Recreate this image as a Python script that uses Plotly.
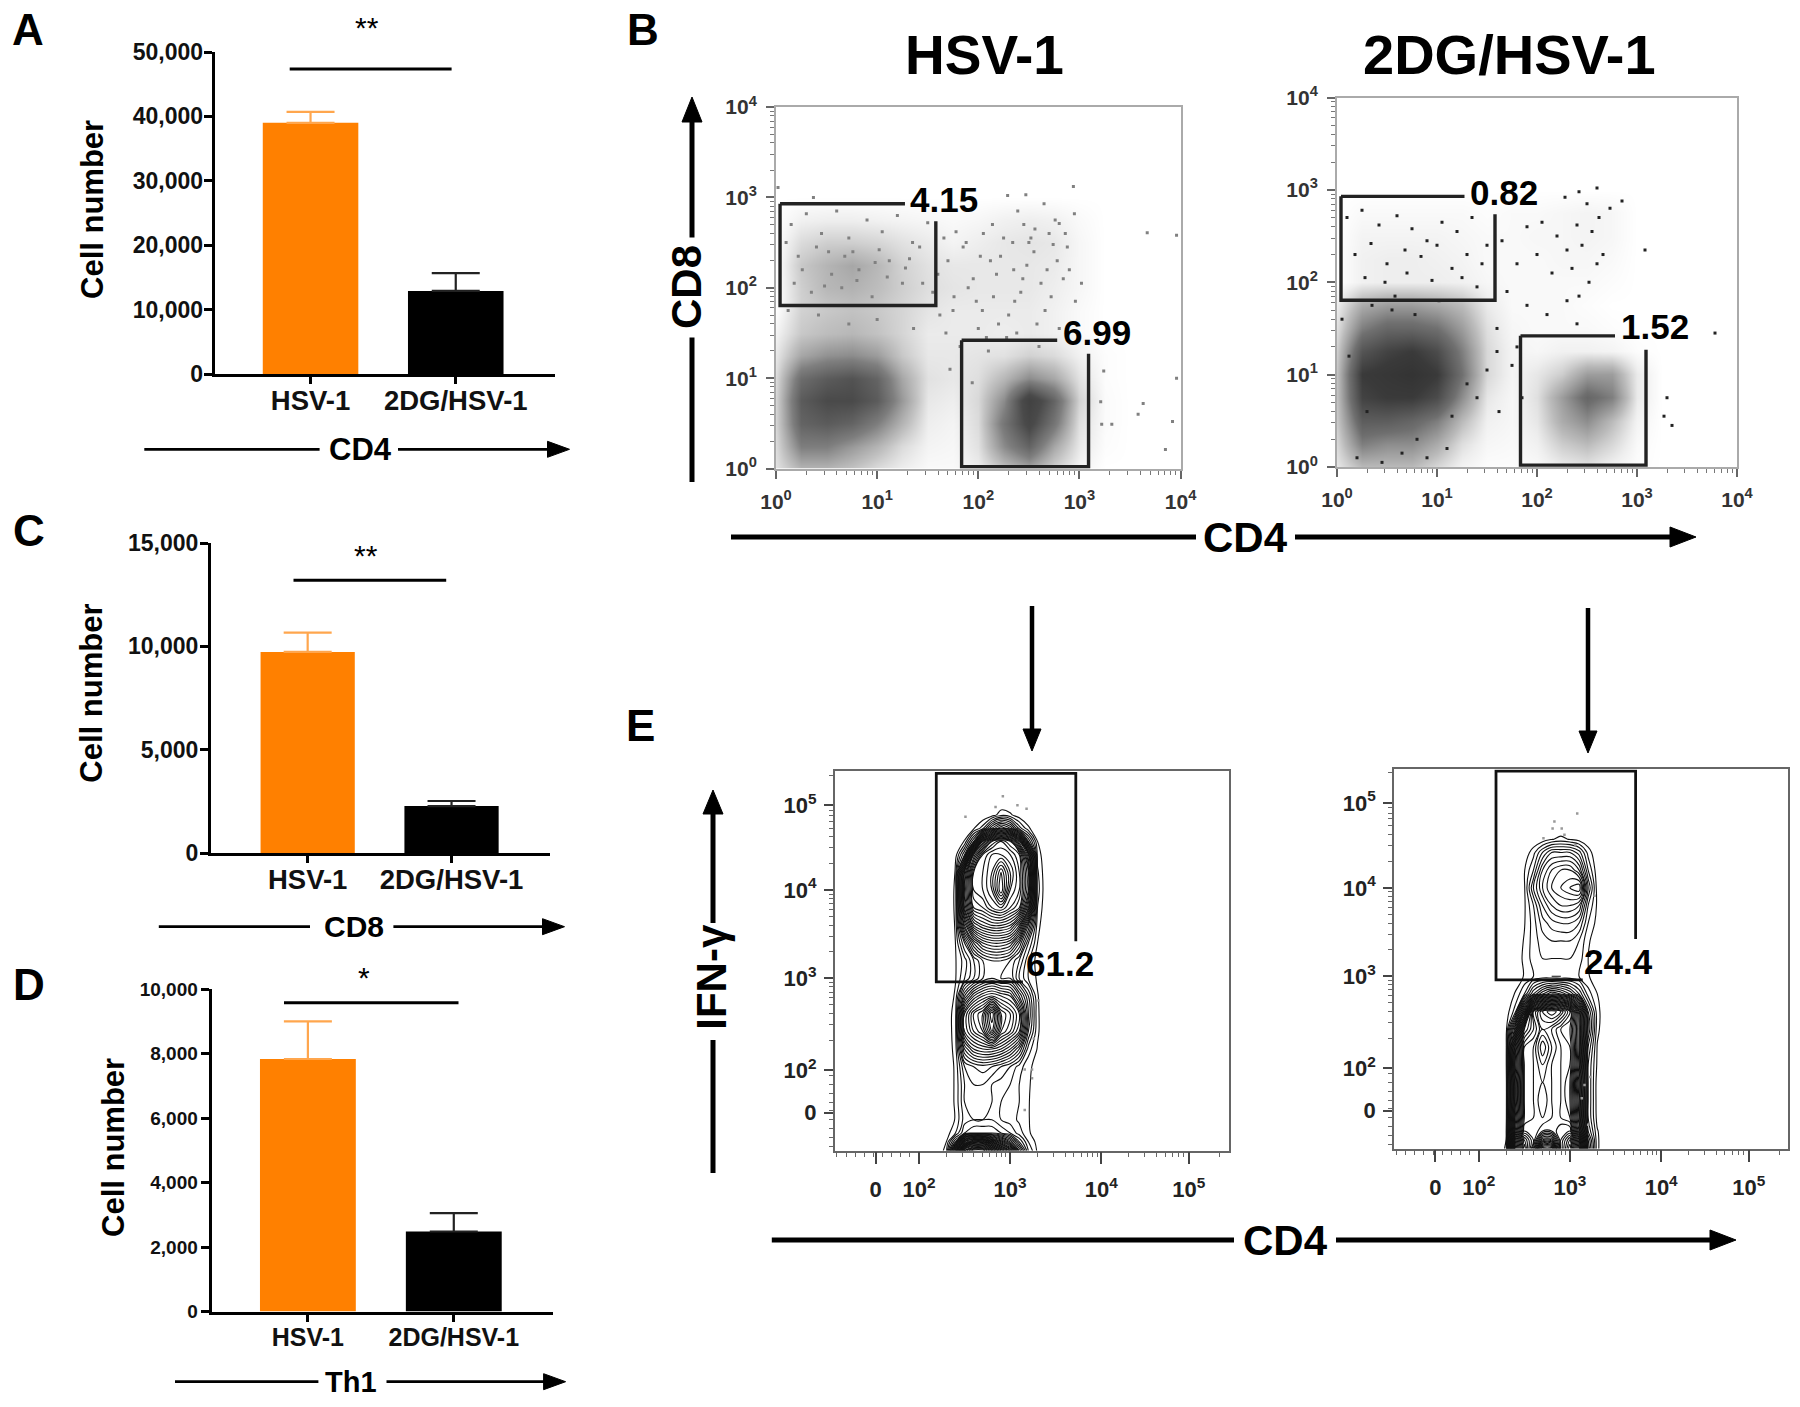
import math
import plotly.graph_objects as go

W, H = 1800, 1407
FONT = "Liberation Sans"

# ---------- bar panels ----------
groups = ["HSV-1", "2DG/HSV-1"]
cd4_means = [39000, 12900]
cd4_err = [1700, 2750]
cd4_ticks = [0, 10000, 20000, 30000, 40000, 50000]
cd4_ticktext = ["0", "10,000", "20,000", "30,000", "40,000", "50,000"]
cd8_means = [9730, 2270]
cd8_err = [930, 245]
cd8_ticks = [0, 5000, 10000, 15000]
cd8_ticktext = ["0", "5,000", "10,000", "15,000"]
th1_means = [7830, 2480]
th1_err = [1165, 570]
th1_ticks = [0, 2000, 4000, 6000, 8000, 10000]
th1_ticktext = ["0", "2,000", "4,000", "6,000", "8,000", "10,000"]

# ---------- CD4 / CD8 dot plots: density read by eye on a 0.25-decade grid ----------
dens_x = [0, .25, .5, .75, 1, 1.25, 1.5, 1.75, 2, 2.25, 2.5, 2.75, 3, 3.25, 3.5, 3.75, 4]
dens_y = [0, .25, .5, .75, 1, 1.25, 1.5, 1.75, 2, 2.25, 2.5, 2.75, 3, 3.25]
hsv_density = [
    [1, 2.5, 2.5, 2, 1.2, .6, .2, .2, .6, 2, 3, 1.5, .4, 0, 0, 0, 0],
    [1.2, 4.5, 4.5, 3.5, 2.5, 1.2, .4, .3, 1, 4, 6, 3, .8, .1, 0, 0, 0],
    [1.4, 6, 6.5, 6, 4.5, 2.5, .6, .4, 1.2, 5, 8, 5, 1.1, .15, 0, 0, 0],
    [1.4, 6.5, 7.5, 7.5, 6.5, 3.5, .8, .6, 1.3, 4, 9, 6, 1.5, .15, 0, 0, 0],
    [1.2, 5.5, 6.5, 7, 6, 3, 1, .8, 1.1, 2.4, 4, 3, 1, .1, 0, 0, 0],
    [.8, 3, 3.8, 4, 3.4, 1.8, .8, .8, .9, 1, 1.5, 1.2, .5, .1, 0, 0, 0],
    [.4, 1.8, 2.2, 2.4, 2, 1.4, .7, .7, .7, .6, .7, .5, .2, 0, 0, 0, 0],
    [0, 1.5, 1.8, 2, 1.8, 1.4, .9, .7, .7, .7, .7, .5, .2, 0, 0, 0, 0],
    [0, 1.6, 2.4, 2.6, 2.2, 1.6, 1.1, .9, .8, .8, .8, .6, .3, 0, 0, 0, 0],
    [0, 1.8, 2.5, 3, 2.4, 1.5, 1, .8, .8, .8, .8, .7, .3, 0, 0, 0, 0],
    [0, 1.2, 1.6, 1.6, 1.4, 1, .7, .4, .6, .8, .9, .8, .3, 0, 0, 0, 0],
    [0, .5, .6, .6, .5, .4, .3, .2, .3, .5, .6, .5, .2, 0, 0, 0, 0],
    [0] * 17,
    [0] * 17,
]
dg_density = [
    [.8, 2, 2, 2, 1.2, .4, .1, .1, .2, .6, .8, .4, .1, 0, 0, 0, 0],
    [1.2, 4, 3.5, 3.5, 2.5, 1, .3, .2, .5, 1.5, 2, 1.2, .2, 0, 0, 0, 0],
    [1.6, 5.5, 5.5, 5, 4, 2, .5, .3, .8, 2.5, 3.5, 2, .4, 0, 0, 0, 0],
    [1.8, 7, 7.5, 7.5, 6.5, 3.5, .8, .3, 1, 3, 5, 4, .7, 0, 0, 0, 0],
    [1.8, 7.5, 8, 8.5, 7.5, 4.5, 1.2, .4, .8, 1.5, 3, 3, .7, 0, 0, 0, 0],
    [1.5, 6, 7, 7.5, 6.5, 4, 1.2, .4, .3, .5, .5, .4, .1, 0, 0, 0, 0],
    [1, 4, 5, 5, 4.5, 3, 1, .3, .2, .2, .2, .1, 0, 0, 0, 0, 0],
    [.6, 2.5, 3, 3, 2.6, 2, .7, .2, .2, .2, .1, 0, 0, 0, 0, 0, 0],
    [0, .5, .6, .6, .6, .5, .3, .2, .2, .2, .2, .1, 0, 0, 0, 0, 0],
    [0, .5, .6, .6, .5, .4, .2, .2, .2, .3, .3, .2, 0, 0, 0, 0, 0],
    [0, .4, .4, .4, .4, .3, .2, .2, .3, .3, .4, .3, 0, 0, 0, 0, 0],
    [0, .2, .2, .2, .2, .2, .1, .2, .2, .3, .4, .3, 0, 0, 0, 0, 0],
    [0] * 17,
    [0] * 17,
]
# single events, log10 units
hsv_dots_x = [2.94, 2.95, 3.67, 3.96, 2.80, 2.29, 2.47, 2.65, 2.39, 3.24, 3.21, 3.63, 3.58, 3.92, 3.22, 3.32, 3.85, 3.96, .37, 0.02,
              1.7, 1.85, 1.95, 2.05, 2.15, 2.25, 2.35, 2.45, 2.55, 2.62, 2.7, 2.78, 2.88, 1.75, 1.9, 2.0, 2.12, 2.3, 2.42, 2.58,
              2.72, 2.84, 1.68, 1.82, 2.04, 2.18, 2.38, 2.5, 2.66, 2.8, 3.02, 1.72, 1.94, 2.1, 2.28, 2.48, 2.6, 2.76, 2.96, 1.6,
              .15, .3, .45, .6, .72, .9, 1.05, 1.2, 1.35, 1.5, .22, .52, .82, 1.12, 1.42, .35, .65, .95, 1.25, 1.55,
              .1, .26, .4, .55, .68, .8, .98, 1.1, 1.28, 1.45, .18, .48, .76, 1.02, 1.32, .12, .42, .72, 1.0, 1.36,
              1.66, 1.78, 1.88, 2.02, 2.14, 2.22, 2.34, 2.44, 2.52, 2.68, 2.74, 2.86, 1.62, 1.76, 1.98, 2.08, 2.2, 2.36, 2.56, 2.9]
hsv_dots_y = [3.12, 2.82, 2.61, 2.58, 2.71, 3.02, 3.03, 2.93, 2.85, 1.08, .74, .72, .6, .52, .49, .49, .21, 1.0, 3.0, 3.11,
              2.3, 2.45, 2.1, 2.6, 1.9, 2.55, 2.2, 2.7, 2.4, 2.05, 2.6, 2.3, 2.45, 1.75, 2.0, 1.55, 2.3, 1.7, 1.95, 1.6,
              1.9, 2.1, 1.5, 1.35, 1.75, 2.15, 1.5, 2.5, 1.75, 1.55, 2.05, 1.1, .95, 1.3, 1.45, 2.25, 1.35, 2.75, 1.85, 2.15,
              2.7, 2.82, 2.6, 2.85, 2.55, 2.75, 2.62, 2.8, 2.5, 2.72, 2.35, 2.4, 2.2, 2.3, 2.45, 1.95, 2.0, 1.9, 2.05, 1.95,
              2.5, 2.2, 2.45, 2.15, 2.35, 2.08, 2.28, 2.12, 2.22, 2.05, 2.05, 2.02, 2.4, 2.42, 2.32, 1.75, 1.7, 1.6, 1.65, 1.55,
              2.55, 2.62, 2.5, 2.35, 2.7, 2.35, 2.5, 2.1, 2.55, 2.2, 2.48, 2.6, 1.7, 1.9, 1.85, 1.45, 1.6, 1.85, 2.65, 2.2]
dg_dots_x = [2.6, 2.42, 2.5, 2.28, 2.62, 2.85, 2.73, 2.4, 2.55, 1.9, 2.05, 2.2, 2.3, 2.45, 2.6, 1.65, 1.8, 2.0, 2.15, 2.35,
             2.52, 2.66, 2.42, 3.08, 3.78, 3.3, 3.27, 3.35, 1.7, 1.9, 2.1, 2.3, 1.6, 1.8, 2.4,
             .1, .25, .42, .6, .75, .9, 1.05, 1.2, 1.35, 1.5, .18, .34, .5, .68, .84, 1.0, 1.15, 1.3, 1.45, .28, .48, .7, .95, 1.25, 1.4,
             .05, .12, .3, .55, .8, 1.1, 1.4, .2, .45, .65, .9, 1.15, 1.3, 1.5, 1.6, 1.75, 1.62, 1.85, .35, .58, .78, 1.02]
dg_dots_y = [3.02, 2.98, 2.85, 2.92, 2.7, 2.88, 2.8, 2.62, 2.55, 2.6, 2.65, 2.5, 2.35, 2.4, 2.2, 2.45, 2.2, 2.3, 2.1, 2.15,
             2.0, 2.3, 1.85, 2.35, 1.45, .75, .55, .45, 1.9, 1.75, 1.65, 1.8, 1.5, 1.3, 1.55,
             2.7, 2.78, 2.62, 2.72, 2.58, 2.45, 2.65, 2.55, 2.7, 2.4, 2.3, 2.42, 2.2, 2.35, 2.28, 2.4, 2.15, 2.3, 2.2, 2.05, 2.0, 2.1, 2.02, 2.05, 1.95,
             1.6, 1.2, .6, 1.7, .3, .2, .75, .1, .05, .15, .1, .55, .9, 1.05, 1.25, 1.1, .6, .75, 1.75, 1.85, 1.65, 1.8]

# gates, log10 units
gate_cd8_x = [.04, .04, 1.58, 1.58, None, .04, 1.275]
gate_cd8_y = [2.93, 1.805, 1.805, 2.735, None, 2.93, 2.93]
gate_cd4_x = [1.835, 1.835, 3.09, 3.09, None, 1.835, 2.78]
gate_cd4_y = [1.42, .02, .02, 1.27, None, 1.42, 1.42]

# ---------- IFN-gamma contour plots: density read by eye, axes in display decades ----------
cont_x = [2.2, 2.3, 2.4, 2.5, 2.6, 2.7, 2.8, 2.9, 3.0, 3.1, 3.2, 3.3, 3.4]
cont_y_hsv = [1.05, 1.15, 1.25, 1.4, 1.6, 1.8, 2.0, 2.2, 2.4, 2.6, 2.8, 3.0, 3.2, 3.4, 3.6, 3.8, 4.0, 4.2, 4.4, 4.55, 4.7, 4.85, 5.0]
ifn_hsv = [
    [0, 1.5, 14, 30, 34, 34, 30, 24, 18, 9, 3, .8, 0],
    [0, 1, 6, 18, 22, 22, 18, 14, 10, 5, 2, .6, 0],
    [0, .4, 2, 5, 6, 6, 6, 5, 4, 2.5, 1.2, .3, 0],
    [0, 0, 1.1, 3.5, 4, 4, 4, 3, 2.5, 1.8, 1.1, .2, 0],
    [0, 0, 1.2, 4, 5, 4.5, 4, 3, 3, 2, 1.1, .2, 0],
    [0, 0, 1.2, 4, 5, 5, 4, 3.5, 3, 2, 1.2, .2, 0],
    [0, .1, 1.2, 5, 6, 6.5, 6, 5, 4, 2.5, 1.3, .5, 0],
    [0, .2, 1.4, 9, 12, 13, 13, 12, 10, 7, 2.5, .9, 0],
    [0, .3, 1.5, 14, 17, 19, 24, 18, 16, 13, 5, 1.2, 0],
    [0, .3, 1.5, 14, 18, 20, 26, 19, 17, 14, 6, 1.2, 0],
    [0, 0, 1.2, 8, 12, 14, 15, 14, 13, 9, 5, 1.1, 0],
    [0, 0, .9, 3, 5, 7, 8, 7, 7, 4, 2, .8, 0],
    [0, 0, .9, 2.5, 5, 7, 8, 8, 7, 5, 2.2, .5, 0],
    [0, 0, 1, 5, 10, 13, 14, 14, 13, 9, 4, 1, 0],
    [0, 0, 1.1, 11, 18, 20, 21, 21, 20, 16, 8, 1.4, 0],
    [0, 0, 1.2, 16, 24, 25, 27, 28, 26, 24, 16, 2, 0],
    [0, 0, 1.2, 18, 26, 27, 29, 34, 28, 26, 20, 2.5, 0],
    [0, 0, 1.1, 16, 26, 27, 29, 33, 29, 26, 20, 2.2, 0],
    [0, 0, .4, 5, 20, 26, 28, 28, 27, 25, 16, 1.6, 0],
    [0, 0, 0, 1.1, 6, 18, 24, 26, 24, 17, 6, 1, 0],
    [0, 0, 0, 0, .8, 2.5, 7, 10, 8, 3.5, 1.2, 0, 0],
    [0, 0, 0, 0, 0, 0, .4, 1.6, 1.2, .3, 0, 0, 0],
    [0] * 13,
]
cont_y_dg = [1.05, 1.15, 1.25, 1.4, 1.6, 1.8, 2.0, 2.2, 2.4, 2.6, 2.8, 3.0, 3.2, 3.4, 3.6, 3.8, 4.0, 4.2, 4.4, 4.55, 4.7]
ifn_dg = [
    [0, 1.2, 26, 36, 28, 14, 14, 30, 36, 26, 8, 1.2, 0],
    [0, 1, 24, 34, 30, 22, 22, 30, 34, 24, 7, 1.2, 0],
    [0, .7, 20, 30, 30, 28, 28, 30, 30, 20, 5, 1.1, 0],
    [0, .4, 18, 28, 29, 30, 29, 28, 27, 18, 4, .6, 0],
    [0, .4, 16, 28, 29, 31, 29, 28, 26, 17, 4, .5, 0],
    [0, .4, 16, 28, 29, 30, 29, 28, 26, 16, 4, .5, 0],
    [0, .6, 18, 28, 29, 31, 29, 28, 27, 18, 4, .8, 0],
    [0, .6, 16, 28, 29, 33, 30, 28, 27, 19, 5, .9, 0],
    [0, .5, 10, 24, 27, 30, 29, 27, 26, 19, 7, 1.3, 0],
    [0, .3, 2.5, 14, 28, 32, 34, 32, 28, 18, 6, 1.4, 0],
    [0, .2, 1.1, 3, 7, 10, 12, 11, 9, 6, 2.5, 1, 0],
    [0, 0, .2, 1.1, 2, 2.2, 2, 2, 2.2, 2, 1.1, .4, 0],
    [0, 0, .4, 1.2, 2.5, 3, 3, 3, 3, 2.5, 1, .2, 0],
    [0, 0, .2, 1.1, 2.5, 3.5, 4, 4, 4, 3, 1.2, .2, 0],
    [0, 0, 0, .9, 2.5, 4.5, 5.5, 6, 6, 5, 2, .6, 0],
    [0, 0, 0, .8, 3, 6, 8, 9, 9, 8, 3, .8, 0],
    [0, 0, 0, .8, 5, 8, 10, 11, 12, 13, 5, .5, 0],
    [0, 0, 0, .9, 3, 7, 9, 10, 10, 8, 3, .3, 0],
    [0, 0, 0, .2, 1.6, 4, 6, 6, 6, 4.5, 1.6, 0, 0],
    [0, 0, 0, 0, 0, .3, .9, 1.3, .9, .5, .1, 0, 0],
    [0] * 13,
]
ifn_dots_hsv_x = [2.92, 2.84, 3.08, 3.18, 2.51, 3.31, 3.26, 3.16, 3.24, 3.24, 3.16]
ifn_dots_hsv_y = [5.06, 4.94, 4.96, 4.92, 4.83, 2.75, 2.32, 1.97, 1.97, 1.87, 1.51]
ifn_dots_dg_x = [3.08, 2.83, 2.81, 2.91, 2.94, 2.71, 3.06, 3.27, 3.22, 3.16, 3.13, 3.2]
ifn_dots_dg_y = [4.84, 4.75, 4.67, 4.67, 4.6, 4.56, 4.48, 3.91, 1.86, 1.77, 1.62, 1.32]
gate_ifn_x = [3.14, 2.19, 2.19, 3.72, 3.72]
gate_ifn_y = [2.96, 2.96, 5.32, 5.32, 3.42]

log_ticks = [0, 1, 2, 3, 4]
log_ticktext = ["10<sup>0</sup>", "10<sup>1</sup>", "10<sup>2</sup>", "10<sup>3</sup>", "10<sup>4</sup>"]
biex_xticks = [1.526, 2, 3, 4, 4.96]
biex_xtext = ["0", "10<sup>2</sup>", "10<sup>3</sup>", "10<sup>4</sup>", "10<sup>5</sup>"]
biex_yticks = [1.48, 1.96, 3, 4, 4.96]
biex_ytext = ["0", "10<sup>2</sup>", "10<sup>3</sup>", "10<sup>4</sup>", "10<sup>5</sup>"]


def px(x):
    return x / W


def py(y):
    return 1 - y / H


fig = go.Figure()
layout = {}
shapes = []
annots = []


def label(text, x, y, size, angle=0, color="#000", bold=True):
    annots.append(dict(text=f"<b>{text}</b>" if bold else text, x=px(x), y=py(y), xref="paper", yref="paper",
                       xanchor="center", yanchor="middle", showarrow=False, textangle=angle,
                       font=dict(family=FONT, size=size, color=color)))


def seg(x0, y0, x1, y1, w, color="#000"):
    shapes.append(dict(type="line", xref="paper", yref="paper", x0=px(x0), y0=py(y0), x1=px(x1), y1=py(y1),
                       line=dict(color=color, width=w)))


def head(x, y, dx, dy, length, half):
    bx, by = x - dx * length, y - dy * length
    nx, ny = -dy * half, dx * half
    path = f"M{px(x)},{py(y)} L{px(bx + nx)},{py(by + ny)} L{px(bx - nx)},{py(by - ny)} Z"
    shapes.append(dict(type="path", xref="paper", yref="paper", path=path, fillcolor="#000", line=dict(color="#000", width=1)))


def axes(idx, box, xr, yr):
    L, R, T, B = box
    xa, ya = f"xaxis{idx}", f"yaxis{idx}"
    layout[xa] = dict(domain=[px(L), px(R)], range=xr, anchor=f"y{idx}", showgrid=False, zeroline=False, fixedrange=True)
    layout[ya] = dict(domain=[py(B), py(T)], range=yr, anchor=f"x{idx}", showgrid=False, zeroline=False, fixedrange=True)
    return layout[xa], layout[ya], f"x{idx}", f"y{idx}"


def bar_panel(idx, box, xr, barw, means, errs, ticks, ticktext, yfont, xfont, ystand, xstand):
    xa, ya, xn, yn = axes(idx, box, xr, [0, ticks[-1]])
    xa.update(type="category", tickmode="array", tickvals=[0, 1], ticktext=groups, categoryorder="array", categoryarray=groups,
              ticks="outside", ticklen=7, tickwidth=3, tickcolor="#000", showline=True, linecolor="#000", linewidth=3,
              ticklabelstandoff=xstand,
              tickfont=dict(family=FONT, size=xfont, color="#111", weight="bold"))
    ya.update(tickmode="array", tickvals=ticks, ticktext=ticktext, ticks="outside", ticklen=8, tickwidth=3, tickcolor="#000",
              showline=True, linecolor="#000", linewidth=3, ticklabelstandoff=ystand,
              tickfont=dict(family=FONT, size=yfont, color="#111", weight="bold"))
    cols = ["#ff8000", "#000000"]
    ecols = ["#ffa64d", "#222222"]
    for i, g in enumerate(groups):
        fig.add_trace(go.Bar(x=[g], y=[means[i]], width=barw, marker=dict(color=cols[i], line=dict(width=0)),
                             error_y=dict(type="data", symmetric=False, array=[errs[i]], arrayminus=[0],
                                          color=ecols[i], thickness=2.2, width=24),
                             xaxis=xn, yaxis=yn, showlegend=False, hoverinfo="skip"))


bar_panel(1, (214.7, 554.5, 52, 374), [-.66, 1.68], .658, cd4_means, cd4_err, cd4_ticks, cd4_ticktext, 23, 27.5, -4, -7)
bar_panel(2, (211, 549.5, 543, 853), [-.672, 1.681], .655, cd8_means, cd8_err, cd8_ticks, cd8_ticktext, 23, 27.5, -3, -7)
bar_panel(3, (211.6, 553, 989, 1311.5), [-.66, 1.68], .657, th1_means, th1_err, th1_ticks, th1_ticktext, 19, 25, -1, -6)

GRAYS = [[0, "#ffffff"], [.06, "#eeeeee"], [.2, "#c2c2c2"], [.45, "#7e7e7e"], [.75, "#4a4a4a"], [1, "#3c3c3c"]]
GRAYS2 = [[0, "#ffffff"], [.06, "#eeeeee"], [.2, "#bbbbbb"], [.45, "#707070"], [.75, "#3a3a3a"], [1, "#2a2a2a"]]
log_minor = [d + math.log10(k) for d in range(4) for k in range(2, 10)]


def dot_panel(idx, box, density, dx, dy, colors, dotcolor):
    xa, ya, xn, yn = axes(idx, box, [0, 4], [0, 4])
    for a in (xa, ya):
        a.update(tickmode="array", tickvals=log_ticks, ticktext=log_ticktext, ticks="outside", ticklen=8, tickwidth=1.5,
                 tickcolor="#666", showline=True, linecolor="#aaaaaa", linewidth=2, mirror=True,
                 ticklabelstandoff=5,
                 minor=dict(tickmode="array", tickvals=log_minor, ticks="outside", ticklen=4, tickcolor="#777", tickwidth=1),
                 tickfont=dict(family=FONT, size=21, color="#333", weight="bold"))
    fig.add_trace(go.Heatmap(x=dens_x, y=dens_y, z=density, zmin=0, zmax=10, zsmooth="best", colorscale=colors,
                             showscale=False, xaxis=xn, yaxis=yn, hoverinfo="skip"))
    fig.add_trace(go.Scatter(x=dx, y=dy, mode="markers", marker=dict(size=3, color=dotcolor, symbol="square"),
                             xaxis=xn, yaxis=yn, showlegend=False, hoverinfo="skip"))
    for gx, gy in ((gate_cd8_x, gate_cd8_y), (gate_cd4_x, gate_cd4_y)):
        fig.add_trace(go.Scatter(x=gx, y=gy, mode="lines", line=dict(color="#222", width=3.4), connectgaps=False,
                                 xaxis=xn, yaxis=yn, showlegend=False, hoverinfo="skip"))


dot_panel(4, (776, 1180.6, 107, 468.6), hsv_density, hsv_dots_x, hsv_dots_y, GRAYS, "#808080")
dot_panel(5, (1337, 1737, 97.5, 467), dg_density, dg_dots_x, dg_dots_y, GRAYS2, "#222222")

biex_minor = [d + math.log10(k) for d in (2, 3, 4, 5) for k in range(2, 10)] + [1.1, 1.2, 1.3, 1.4, 1.5, 1.6, 1.7, 1.8, 1.9]
biex_minor = [v for v in biex_minor if v < 5.38]


def contour_panel(idx, box, xr, yr, cx, cy, z, dx, dy):
    xa, ya, xn, yn = axes(idx, box, xr, yr)
    xa.update(tickmode="array", tickvals=biex_xticks, ticktext=biex_xtext, ticks="outside", ticklen=12, tickwidth=1.5,
              tickcolor="#444", showline=True, linecolor="#666", linewidth=1.5, mirror=True, ticklabelstandoff=6,
              minor=dict(tickmode="array", tickvals=biex_minor, ticks="outside", ticklen=5, tickcolor="#666", tickwidth=1),
              tickfont=dict(family=FONT, size=22, color="#222", weight="bold"))
    ya.update(tickmode="array", tickvals=biex_yticks, ticktext=biex_ytext, ticks="outside", ticklen=9, tickwidth=1.5,
              tickcolor="#444", showline=True, linecolor="#666", linewidth=1.5, mirror=True, ticklabelstandoff=3,
              minor=dict(tickmode="array", tickvals=biex_minor, ticks="outside", ticklen=4, tickcolor="#666", tickwidth=1),
              tickfont=dict(family=FONT, size=22, color="#222", weight="bold"))
    fig.add_trace(go.Contour(x=cx, y=cy, z=z, autocontour=False, contours=dict(coloring="lines", start=1, end=37, size=1),
                             line=dict(width=1.1, smoothing=1), colorscale=[[0, "#111"], [1, "#111"]], showscale=False,
                             xaxis=xn, yaxis=yn, hoverinfo="skip"))
    fig.add_trace(go.Scatter(x=dx, y=dy, mode="markers", marker=dict(size=2.5, color="#999", symbol="square"),
                             xaxis=xn, yaxis=yn, showlegend=False, hoverinfo="skip"))
    fig.add_trace(go.Scatter(x=gate_ifn_x, y=gate_ifn_y, mode="lines", line=dict(color="#111", width=2.8),
                             xaxis=xn, yaxis=yn, showlegend=False, hoverinfo="skip"))


contour_panel(6, (834.6, 1229, 770.7, 1150.7), [1.075, 5.40], [1.05, 5.35], cont_x, cont_y_hsv, ifn_hsv, ifn_dots_hsv_x, ifn_dots_hsv_y)
contour_panel(7, (1394, 1788, 769.3, 1148.7), [1.072, 5.39], [1.05, 5.34], cont_x, cont_y_dg, ifn_dg, ifn_dots_dg_x, ifn_dots_dg_y)

# significance bars and stars
seg(289.7, 69, 451.6, 69, 3)
label("**", 367, 27, 30, bold=False)
seg(293.5, 580.3, 446.2, 580.3, 3)
label("**", 366, 555, 30, bold=False)
seg(284, 1002.7, 458.5, 1002.7, 3)
label("*", 364, 977, 30, bold=False)

# y titles
label("Cell number", 93, 210, 31, angle=-90)
label("Cell number", 90.7, 693, 31, angle=-90)
label("Cell number", 113, 1148, 31, angle=-90)

# thin arrows under bars
for y, x0, g0, g1, x1, txt, tx, size in (
    (449.3, 144.3, 319.6, 398, 569.5, "CD4", 360.5, 31),
    (926.7, 158.8, 310, 393.4, 564.5, "CD8", 354, 30),
    (1381.7, 175, 318.4, 386.5, 565.6, "Th1", 351, 29),
):
    seg(x0, y, g0, y, 2.8)
    seg(g1, y, x1 - 10, y, 2.8)
    head(x1, y, 1, 0, 22, 8)
    label(txt, tx, y, size)

# panel letters
label("A", 28, 29, 44)
label("B", 643, 29, 44)
label("C", 28.7, 530, 44)
label("D", 28.7, 984, 44)
label("E", 640.6, 725, 44)

# panel B titles and arrows
label("HSV-1", 984.5, 55, 55)
label("2DG/HSV-1", 1509, 55, 56)
seg(692, 482, 692, 337.5, 5)
seg(692, 237.5, 692, 115, 5)
head(692, 97, 0, -1, 25, 10)
label("CD8", 687, 287, 42, angle=-90)
seg(731, 537, 1196, 537, 5)
seg(1295, 537, 1680, 537, 5)
head(1696, 537, 1, 0, 26, 10)
label("CD4", 1245.6, 537, 42)

# gate percentages
label("4.15", 944, 200, 35)
label("6.99", 1096.5, 332, 35)
label("0.82", 1504, 192, 35)
label("1.52", 1655, 327, 35)
label("61.2", 1060, 963, 35)
label("24.4", 1618.6, 961, 35)

# connector arrows
seg(1032, 606, 1032, 735, 4.5)
head(1032, 751, 0, 1, 22, 9)
seg(1588, 608, 1588, 737, 4.5)
head(1588, 753, 0, 1, 22, 9)

# panel E arrows
seg(713, 1173, 713, 1040, 5)
seg(713, 923, 713, 808, 5)
head(713, 790, 0, -1, 24, 10)
label("IFN-γ", 712, 976.7, 42, angle=-90)
seg(771.8, 1240, 1234, 1240, 5)
seg(1336, 1240, 1722, 1240, 5)
head(1736, 1240, 1, 0, 26, 10)
label("CD4", 1285, 1240, 42)

layout.update(width=W, height=H, margin=dict(l=0, r=0, t=0, b=0, pad=0, autoexpand=False), autosize=False, showlegend=False,
              paper_bgcolor="#fff", plot_bgcolor="#fff", barmode="overlay", shapes=shapes, annotations=annots,
              font=dict(family=FONT, color="#000"))
fig.update_layout(**layout)
fig.write_html("out.html", config=dict(displayModeBar=False),
               post_script="document.body.style.margin='0';document.documentElement.style.overflow='hidden';")
